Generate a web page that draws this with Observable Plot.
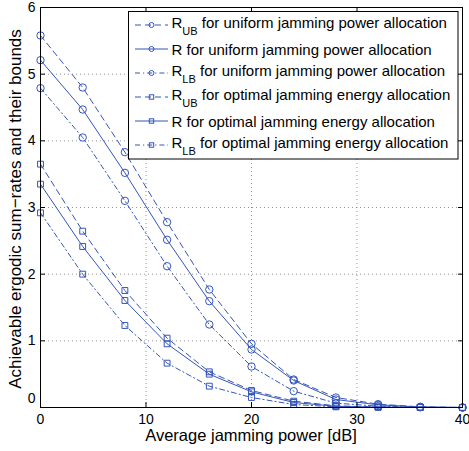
<!DOCTYPE html>
<html><head><meta charset="utf-8">
<script src="https://cdn.jsdelivr.net/npm/d3@7"></script>
<script src="https://cdn.jsdelivr.net/npm/@observablehq/plot@0.6"></script>
<style>body{margin:0;background:#fff} svg{display:block}</style>
</head><body><div id="chart"></div>
<script>
// Average jamming power [dB]
const powerDb = [0, 4, 8, 12, 16, 20, 24, 28, 32, 36, 40];
// Uniform jamming power allocation
const uniformUB = [5.58, 4.80, 3.83, 2.78, 1.77, 0.955, 0.42, 0.15, 0.05, 0.01, 0.0];
const uniformR  = [5.21, 4.47, 3.52, 2.515, 1.595, 0.87, 0.405, 0.12, 0.04, 0.008, 0.0];
const uniformLB = [4.79, 4.05, 3.10, 2.12, 1.245, 0.615, 0.245, 0.065, 0.02, 0.004, 0.0];
// Optimal jamming energy allocation
const optimalUB = [3.65, 2.645, 1.755, 1.04, 0.535, 0.255, 0.095, 0.025, 0.008, 0.002, 0.0];
const optimalR  = [3.35, 2.415, 1.605, 0.955, 0.50, 0.235, 0.075, 0.018, 0.005, 0.001, 0.0];
const optimalLB = [2.92, 2.00, 1.23, 0.665, 0.32, 0.15, 0.045, 0.01, 0.003, 0.001, 0.0];

const xTicks = [0, 10, 20, 30, 40];
const yTicks = [0, 1, 2, 3, 4, 5, 6];
const xLabel = "Average jamming power [dB]";
const yLabel = "Achievable ergodic sum\u2212rates and their bounds";
const legendLabels = [
  ["R", "UB", " for uniform jamming power allocation"],
  ["R", "", " for uniform jamming power allocation"],
  ["R", "LB", " for uniform jamming power allocation"],
  ["R", "UB", " for optimal jamming energy allocation"],
  ["R", "", " for optimal jamming energy allocation"],
  ["R", "LB", " for optimal jamming energy allocation"]
];

const blue = "#3355bb";
const DASH = "6,4", DASHDOT = "5,3,1.2,3";
const series = [
  {values: uniformUB, symbol: "circle", dash: DASH},
  {values: uniformR,  symbol: "circle", dash: null},
  {values: uniformLB, symbol: "circle", dash: DASHDOT},
  {values: optimalUB, symbol: "square", dash: DASH},
  {values: optimalR,  symbol: "square", dash: null},
  {values: optimalLB, symbol: "square", dash: DASHDOT}
];
const tables = series.map(s => powerDb.map((x, i) => ({x, y: s.values[i]})));

const font = "Liberation Sans, Arial, Helvetica, sans-serif";
const fmt = d => String(d);
const marks = [
  Plot.gridX(xTicks, {stroke: "#777", strokeOpacity: 1, strokeWidth: 0.8, strokeDasharray: "1,3"}),
  Plot.gridY(yTicks, {stroke: "#777", strokeOpacity: 1, strokeWidth: 0.8, strokeDasharray: "1,3"})
];
series.forEach((s, k) => {
  marks.push(Plot.line(tables[k], {x: "x", y: "y", stroke: blue, strokeWidth: 1, strokeDasharray: s.dash}));
  marks.push(Plot.dot(tables[k], {x: "x", y: "y", stroke: blue, strokeWidth: 1, fill: "none",
    symbol: s.symbol, r: s.symbol === "circle" ? 3.7 : 3.3}));
});
marks.push(
  Plot.frame({stroke: "black", strokeWidth: 1}),
  Plot.axisX(xTicks, {anchor: "bottom", tickSize: -5, text: null, label: null}),
  Plot.axisX(xTicks, {anchor: "top", tickSize: -5, text: null, label: null}),
  Plot.axisY(yTicks, {anchor: "left", tickSize: -5, text: null, label: null}),
  Plot.axisY(yTicks, {anchor: "right", tickSize: -5, text: null, label: null}),
  Plot.axisX(xTicks, {anchor: "bottom", tickSize: 0, tickPadding: 7, fontSize: 14, label: null, tickFormat: fmt}),
  Plot.axisY(yTicks.filter(d => d !== 0), {anchor: "left", tickSize: 0, tickPadding: 5, fontSize: 14, label: null, tickFormat: fmt}),
  Plot.axisY([0], {anchor: "left", tickSize: 0, tickPadding: 5, dy: -9, fontSize: 14, label: null, tickFormat: fmt})
);

const svg = Plot.plot({
  width: 469, height: 451,
  marginLeft: 40, marginRight: 7, marginTop: 7, marginBottom: 44,
  style: {fontFamily: font, background: "white", color: "black", overflow: "visible"},
  x: {domain: [0, 40]},
  y: {domain: [0, 6]},
  marks
});
document.getElementById("chart").appendChild(svg);

// axis titles and legend
const s = d3.select(svg);
s.append("text").attr("x", 251).attr("y", 441).attr("text-anchor", "middle")
  .attr("font-size", 16.5).attr("font-family", font).attr("fill", "black").text(xLabel);
s.append("text").attr("transform", "translate(21,209) rotate(-90)").attr("text-anchor", "middle")
  .attr("font-size", 17).attr("font-family", font).attr("fill", "black").text(yLabel);

const lg = s.append("g").attr("font-family", font).attr("fill", "black").attr("text-anchor", "start");
lg.append("rect").attr("x", 128.5).attr("y", 11.5).attr("width", 329.5).attr("height", 147.5)
  .attr("fill", "white").attr("stroke", "black").attr("stroke-width", 1);
legendLabels.forEach((lab, i) => {
  const y = 25 + 24 * i;
  const sr = series[i];
  lg.append("line").attr("x1", 135).attr("x2", 168).attr("y1", y).attr("y2", y)
    .attr("stroke", blue).attr("stroke-width", 1).attr("stroke-dasharray", sr.dash);
  if (sr.symbol === "circle") {
    lg.append("circle").attr("cx", 151.5).attr("cy", y).attr("r", 2.5)
      .attr("fill", "none").attr("stroke", blue);
  } else {
    lg.append("rect").attr("x", 149.3).attr("y", y - 2.2).attr("width", 4.4).attr("height", 4.4)
      .attr("fill", "none").attr("stroke", blue);
  }
  const t = lg.append("text").attr("x", 171.5).attr("y", lab[1] ? y + 3 : y + 5.5)
    .attr("font-size", 15).attr("text-anchor", "start");
  t.append("tspan").text(lab[0]);
  if (lab[1]) {
    t.append("tspan").attr("font-size", 11).attr("dy", 6.5).text(lab[1]);
    t.append("tspan").attr("dy", -6.5).text(lab[2]);
  } else {
    t.append("tspan").text(lab[2]);
  }
});
</script>
</body></html>
